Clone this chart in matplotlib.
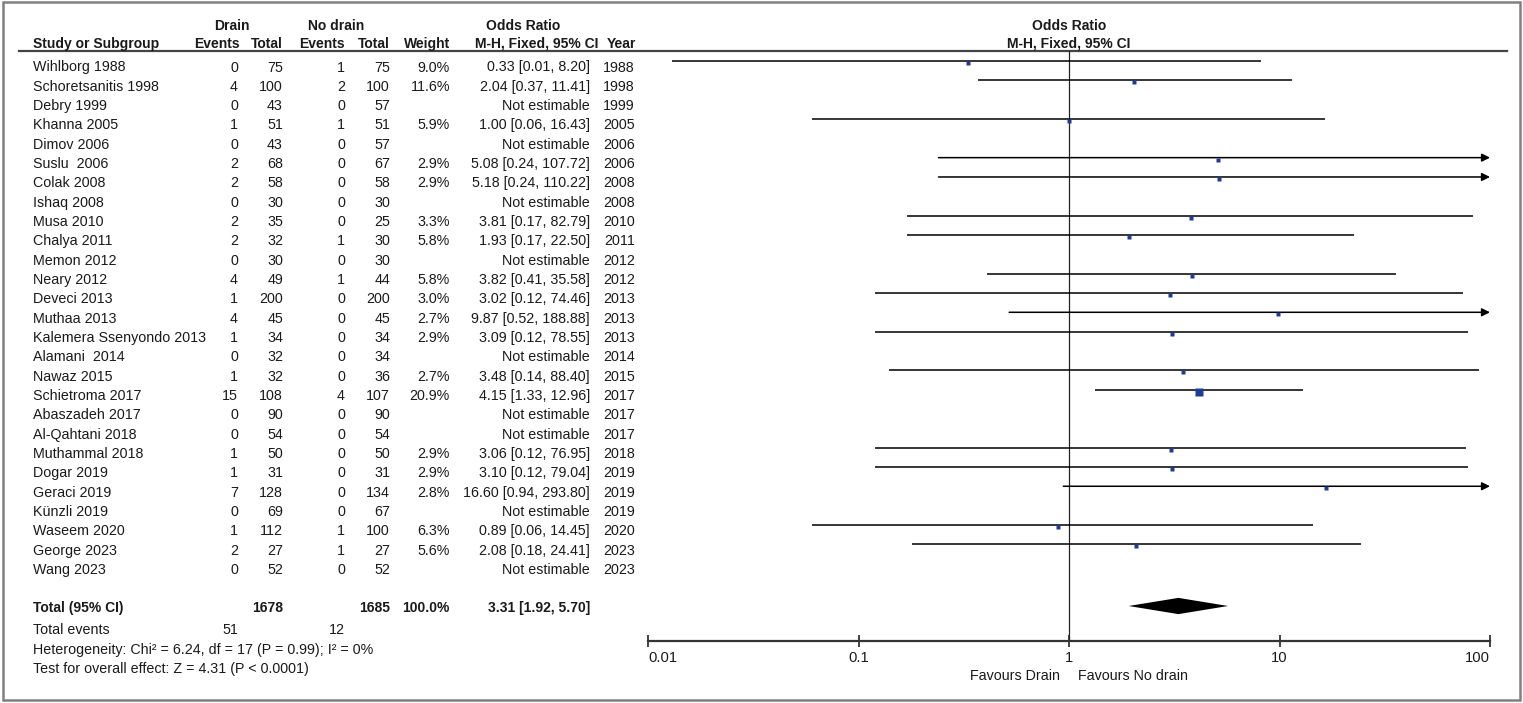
import matplotlib.pyplot as plt
import matplotlib.patches as mpatches
import numpy as np

plt.rcParams['font.family'] = ['Liberation Sans', 'DejaVu Sans']

# ---- data ----
studies = ["Wihlborg 1988", "Schoretsanitis 1998", "Debry 1999", "Khanna 2005", "Dimov 2006",
           "Suslu  2006", "Colak 2008", "Ishaq 2008", "Musa 2010", "Chalya 2011", "Memon 2012",
           "Neary 2012", "Deveci 2013", "Muthaa 2013", "Kalemera Ssenyondo 2013", "Alamani  2014",
           "Nawaz 2015", "Schietroma 2017", "Abaszadeh 2017", "Al-Qahtani 2018", "Muthammal 2018",
           "Dogar 2019", "Geraci 2019", "Künzli 2019", "Waseem 2020", "George 2023", "Wang 2023"]
drain_events = [0, 4, 0, 1, 0, 2, 2, 0, 2, 2, 0, 4, 1, 4, 1, 0, 1, 15, 0, 0, 1, 1, 7, 0, 1, 2, 0]
drain_total = [75, 100, 43, 51, 43, 68, 58, 30, 35, 32, 30, 49, 200, 45, 34, 32, 32, 108, 90, 54, 50, 31, 128, 69, 112, 27, 52]
nodrain_events = [1, 2, 0, 1, 0, 0, 0, 0, 0, 1, 0, 1, 0, 0, 0, 0, 0, 4, 0, 0, 0, 0, 0, 0, 1, 1, 0]
nodrain_total = [75, 100, 57, 51, 57, 67, 58, 30, 25, 30, 30, 44, 200, 45, 34, 34, 36, 107, 90, 54, 50, 31, 134, 67, 100, 27, 52]
weight = [9.0, 11.6, None, 5.9, None, 2.9, 2.9, None, 3.3, 5.8, None, 5.8, 3.0, 2.7, 2.9, None,
          2.7, 20.9, None, None, 2.9, 2.9, 2.8, None, 6.3, 5.6, None]
odds = [0.33, 2.04, None, 1.00, None, 5.08, 5.18, None, 3.81, 1.93, None, 3.82, 3.02, 9.87, 3.09, None,
        3.48, 4.15, None, None, 3.06, 3.10, 16.60, None, 0.89, 2.08, None]
ci_low = [0.013, 0.37, None, 0.06, None, 0.24, 0.24, None, 0.17, 0.17, None, 0.41, 0.12, 0.52, 0.12, None,
          0.14, 1.33, None, None, 0.12, 0.12, 0.94, None, 0.06, 0.18, None]
ci_high = [8.20, 11.41, None, 16.43, None, 107.72, 110.22, None, 82.79, 22.50, None, 35.58, 74.46, 188.88,
           78.55, None, 88.40, 12.96, None, None, 76.95, 79.04, 293.80, None, 14.45, 24.41, None]
years = [1988, 1998, 1999, 2005, 2006, 2006, 2008, 2008, 2010, 2011, 2012, 2012, 2013, 2013, 2013, 2014,
         2015, 2017, 2017, 2017, 2018, 2019, 2019, 2019, 2020, 2023, 2023]

total_or, total_lo, total_hi = 3.31, 1.92, 5.70
total_drain, total_nodrain = 1678, 1685
events_drain, events_nodrain = 51, 12
ticks = [0.01, 0.1, 1, 10, 100]

# ---- layout (pixels) ----
W, H = 1523, 703
row0, step = 61, 19.33
txt_off = 6.5
fs = 10.3
fsb = 10.0
tc = '#1a1a1a'

fig = plt.figure(figsize=(W / 100, H / 100), dpi=100)
ax0 = fig.add_axes([0, 0, 1, 1])
ax0.set_xlim(0, W)
ax0.set_ylim(H, 0)
ax0.axis('off')

# frame
ax0.add_patch(mpatches.Rectangle((3, 2), 1517, 698, fill=False, ec='#808080', lw=1.8))
# header line
ax0.plot([19, 1507], [51, 51], color='#444444', lw=1.6)

# headers
hb = dict(fontsize=fsb, fontweight='bold', color=tc, va='center')
ax0.text(232, 26, "Drain", ha='center', **hb)
ax0.text(336, 26, "No drain", ha='center', **hb)
ax0.text(523, 26, "Odds Ratio", ha='center', **hb)
ax0.text(33, 44, "Study or Subgroup", ha='left', **hb)
ax0.text(240, 44, "Events", ha='right', **hb)
ax0.text(283, 44, "Total", ha='right', **hb)
ax0.text(345, 44, "Events", ha='right', **hb)
ax0.text(390, 44, "Total", ha='right', **hb)
ax0.text(450, 44, "Weight", ha='right', **hb)
ax0.text(598, 44, "M-H, Fixed, 95% CI", ha='right', **hb)
ax0.text(636, 44, "Year", ha='right', **hb)
ax0.text(1069, 26, "Odds Ratio", ha='center', **hb)
ax0.text(1069, 44, "M-H, Fixed, 95% CI", ha='center', **hb)

# rows
tn = dict(fontsize=fs, color=tc, va='center')
for i, name in enumerate(studies):
    y = row0 + step * i + txt_off
    ax0.text(33, y, name, ha='left', **tn)
    ax0.text(238, y, str(drain_events[i]), ha='right', **tn)
    ax0.text(283, y, str(drain_total[i]), ha='right', **tn)
    ax0.text(345, y, str(nodrain_events[i]), ha='right', **tn)
    ax0.text(390, y, str(nodrain_total[i]), ha='right', **tn)
    if weight[i] is not None:
        ax0.text(450, y, f"{weight[i]:.1f}%", ha='right', **tn)
        ax0.text(590, y, f"{odds[i]:.2f} [{ci_low[i]:.2f}, {ci_high[i]:.2f}]", ha='right', **tn)
    else:
        ax0.text(590, y, "Not estimable", ha='right', **tn)
    ax0.text(635, y, str(years[i]), ha='right', **tn)

# totals
yt = 608
tb = dict(fontsize=fsb, fontweight='bold', color=tc, va='center')
ax0.text(33, yt, "Total (95% CI)", ha='left', **tb)
ax0.text(283, yt, str(total_drain), ha='right', **tb)
ax0.text(390, yt, str(total_nodrain), ha='right', **tb)
ax0.text(450, yt, "100.0%", ha='right', **tb)
ax0.text(590, yt, f"{total_or:.2f} [{total_lo:.2f}, {total_hi:.2f}]", ha='right', **tb)
ax0.text(33, 630, "Total events", ha='left', **tn)
ax0.text(238, 630, str(events_drain), ha='right', **tn)
ax0.text(345, 630, str(events_nodrain), ha='right', **tn)
ax0.text(33, 650, "Heterogeneity: Chi² = 6.24, df = 17 (P = 0.99); I² = 0%", ha='left', **tn)
ax0.text(33, 669, "Test for overall effect: Z = 4.31 (P < 0.0001)", ha='left', **tn)

# ---- forest panel ----
px_l, px_r, px_t, px_b = 648, 1490, 51, 641
ax = fig.add_axes([px_l / W, 1 - px_b / H, (px_r - px_l) / W, (px_b - px_t) / H])
ax.set_xscale('log')
ax.set_xlim(0.01, 100)
ax.set_ylim((px_b - row0) / step, (px_t - row0) / step)
ax.patch.set_alpha(0)
for s in ['top', 'left', 'right']:
    ax.spines[s].set_visible(False)
ax.spines['bottom'].set_color('#333333')
ax.spines['bottom'].set_linewidth(1.6)
ax.set_yticks([])
ax.set_xticks(ticks)
ax.xaxis.set_minor_locator(plt.NullLocator())
ax.set_xticklabels(["0.01", "0.1", "1", "10", "100"])
ax.tick_params(axis='x', direction='inout', length=9, width=1.3, color='#333333',
               labelsize=10.6, labelcolor=tc, pad=3)
labs = ax.get_xticklabels()
labs[0].set_ha('left')
labs[-1].set_ha('right')

ax.axvline(1, color='#222222', lw=0.9)

for i in range(len(studies)):
    if odds[i] is None:
        continue
    if ci_high[i] > 100:
        ax.annotate('', xy=(100, i), xytext=(ci_low[i], i),
                    arrowprops=dict(arrowstyle='-|>', color='black', lw=1.1, mutation_scale=12,
                                    shrinkA=0, shrinkB=0))
    else:
        ax.plot([ci_low[i], ci_high[i]], [i, i], color='black', lw=1.1, solid_capstyle='butt')
    side = max(weight[i] * 0.34, 3.2) * 0.72
    ax.plot(odds[i], i + 0.1, 's', ms=side, color='#1f3b95', mec='none', zorder=3)

yd = (606 - row0) / step
hh = 0.42
ax.fill([total_lo, total_or, total_hi, total_or], [yd, yd - hh, yd, yd + hh], color='black', lw=0)

ax0.text(1060, 676, "Favours Drain", ha='right', va='center', fontsize=10.3, color=tc)
ax0.text(1078, 676, "Favours No drain", ha='left', va='center', fontsize=10.3, color=tc)

fig.savefig("out.png", dpi=100)
